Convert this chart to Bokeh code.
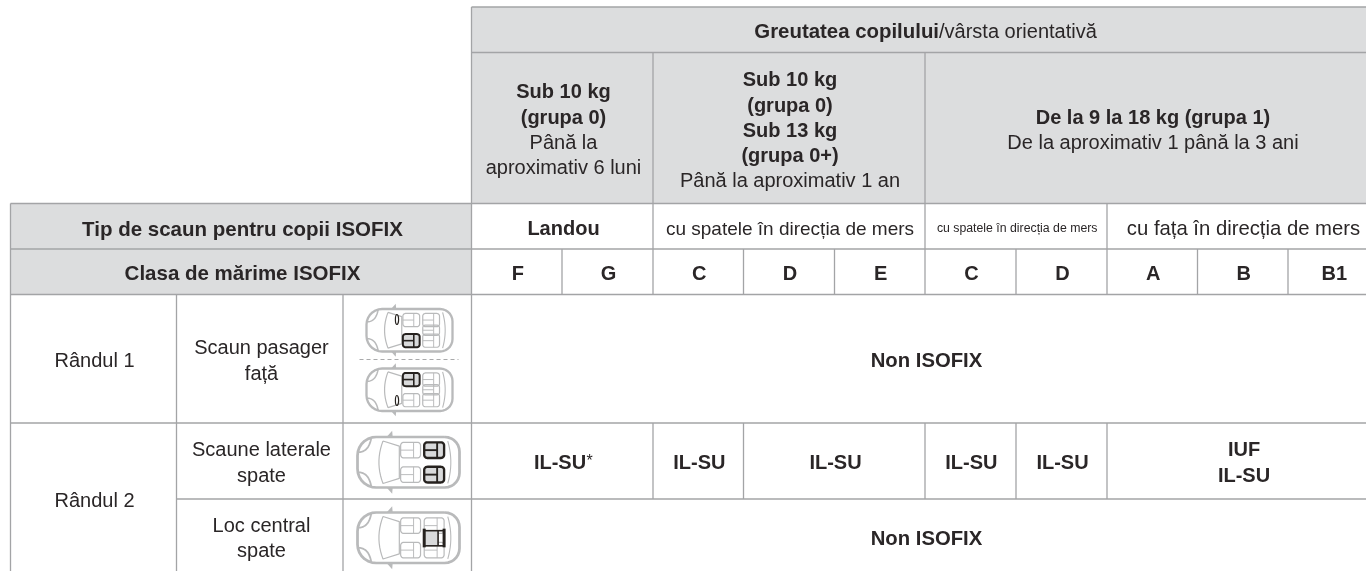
from bokeh.plotting import figure
from bokeh.models import Range1d
from bokeh.core.properties import value
from bokeh.embed import file_html
from bokeh.resources import INLINE
import numpy as np

# ---------- table content ----------
header_title_bold = "Greutatea copilului"
header_title_rest = "/vârsta orientativă"
group_1 = ["Sub 10 kg", "(grupa 0)", "Până la", "aproximativ 6 luni"]
group_2 = ["Sub 10 kg", "(grupa 0)", "Sub 13 kg", "(grupa 0+)", "Până la aproximativ 1 an"]
group_3 = ["De la 9 la 18 kg (grupa 1)", "De la aproximativ 1 până la 3 ani"]
seat_type_label = "Tip de scaun pentru copii ISOFIX"
size_class_label = "Clasa de mărime ISOFIX"
seat_types = ["Landou", "cu spatele în direcția de mers", "cu spatele în direcția de mers", "cu fața în direcția de mers"]
size_classes = ["F", "G", "C", "D", "E", "C", "D", "A", "B", "B1"]
rows = ["Rândul 1", "Rândul 2"]
positions = [["Scaun pasager", "față"], ["Scaune laterale", "spate"], ["Loc central", "spate"]]
non_isofix = "Non ISOFIX"
row2_values = ["IL-SU", "IL-SU", "IL-SU", "IL-SU", "IL-SU", "IUF", "IL-SU"]
footnote_mark = "*"

# ---------- layout (page pixels) ----------
W, H = 1366, 571
XL = [10, 176, 342.5, 471]
XC = [471, 561.5, 652.5, 743, 834, 924.5, 1015.5, 1106.5, 1197, 1287.5, 1378]
Y = [6.5, 52, 203, 248.5, 294, 422.5, 498.5, 571]
LINE = "#a3a4a6"
FILL = "#dcddde"
INK = "#2a2627"
CAR = "#b9babb"
DARK = "#26221f"
FONT = "Liberation Sans"
FS = 20

p = figure(width=W, height=H, x_range=Range1d(0, W), y_range=Range1d(H, 0),
           toolbar_location=None, output_backend="svg", min_border=0,
           outline_line_color=None, background_fill_color="white",
           styles={"position": "fixed", "left": "0px", "top": "0px"})
p.axis.visible = False
p.grid.visible = False

# shaded cells
p.quad(left=[XC[0], XL[0]], right=[W, XL[3]], top=[Y[0], Y[2]], bottom=[Y[2], Y[4]],
       fill_color=FILL, line_color=None)

# grid lines
segs = []
def h(x0, x1, y): segs.append((x0, y, x1, y))
def v(x, y0, y1): segs.append((x, y0, x, y1))
h(XC[0], W, Y[0]); h(XC[0], W, Y[1])
h(XL[0], W, Y[2]); h(XL[0], W, Y[3]); h(XL[0], W, Y[4]); h(XL[0], W, Y[5])
h(XL[1], W, Y[6])
v(XL[0], Y[2], Y[7]); v(XL[3], Y[0], Y[7])
v(XL[1], Y[4], Y[7]); v(XL[2], Y[4], Y[7])
v(XC[2], Y[1], Y[3]); v(XC[5], Y[1], Y[3]); v(XC[7], Y[2], Y[3])
for i in range(1, 10):
    v(XC[i], Y[3], Y[4])
for i in (2, 3, 5, 6, 7):
    v(XC[i], Y[5], Y[6])
s = np.array(segs)
p.segment(s[:, 0], s[:, 1], s[:, 2], s[:, 3], line_color=LINE, line_width=1.3)

# texts
def t(label, x, y, bold=False, size=FS, align="center", font=FONT, color=INK):
    p.text([x], [y - 0.7], text=[label], text_font=value(font), text_font_size=f"{size}px",
           text_font_style="bold" if bold else "normal", text_align=align,
           text_baseline="middle", text_color=color)

t(header_title_bold, 938.5, 31.5, True, align="right", size=20.4)
t(header_title_rest, 938.5, 31.5, False, align="left")

g1_y = [91, 117, 142, 167]
for lab, y, b in zip(group_1, g1_y, (True, True, False, False)):
    t(lab, 563, y, b)
g2_y = [79.5, 105, 130, 155, 180.5]
for lab, y, b in zip(group_2, g2_y, (True, True, True, True, False)):
    t(lab, 789.5, y, b)
for lab, y, b in zip(group_3, (117.5, 142.5), (True, False)):
    t(lab, 1152.5, y, b)

t(seat_type_label, 242, 228.5, True, size=20.5)
t(size_class_label, 242, 273, True, size=20.5)
t(seat_types[0], 563, 228.5, True)
t(seat_types[1], 789.5, 228.5, False, size=19)
t(seat_types[2], 1016.7, 228.5, False, size=12.3)
t(seat_types[3], 1243, 228.5, False, size=20.3)

for lab, i in zip(size_classes, range(10)):
    t(lab, (XC[i] + XC[i + 1]) / 2 + 1, 273.5, True)

t(rows[0], 94, 360)
t(rows[1], 94, 500)
for (a, b), ya, yb in zip(positions, (347, 449, 525), (373.5, 475, 550.5)):
    t(a, 261, ya); t(b, 261, yb)

t(non_isofix, 926, 360.5, True, size=20.3)
t(non_isofix, 926, 538, True, size=20.3)
cx_vals = [559.5, 698.8, 835, 970.8, 1062]
for lab, x in zip(row2_values[:5], cx_vals):
    t(lab, x, 462, True)
t(footnote_mark, 586, 461, False, size=16, align="left")
t(row2_values[5], 1243.5, 449, True)
t(row2_values[6], 1243.5, 475, True)


# ---------- car pictograms ----------
def rrect(x0, y0, x1, y1, r, r_front=None):
    rf = r if r_front is None else r_front
    xs, ys = [], []
    for cx, cy, a0, rr in ((x1 - r, y0 + r, -90, r), (x1 - r, y1 - r, 0, r),
                           (x0 + rf, y1 - rf, 90, rf), (x0 + rf, y0 + rf, 180, rf)):
        for a in np.radians(np.linspace(a0, a0 + 90, 8)):
            xs.append(cx + rr * np.cos(a)); ys.append(cy + rr * np.sin(a))
    return xs + xs[:1], ys + ys[:1]


def bez(p0, p1, p2, n=12):
    u = np.linspace(0, 1, n)
    return (list((1-u)**2*p0[0] + 2*u*(1-u)*p1[0] + u*u*p2[0]),
            list((1-u)**2*p0[1] + 2*u*(1-u)*p1[1] + u*u*p2[1]))


def seat(x0, y0, x1, y1, k, hi=False):
    col = DARK if hi else CAR
    lw = 2.4 * k if hi else 1.2
    xs, ys = rrect(x0, y0, x1, y1, 3.2 * k)
    xm = x0 + (x1 - x0) * 0.65
    ym = (y0 + y1) / 2
    if hi:
        p.patch(xs, ys, fill_color="#d9dadb", line_color=col, line_width=lw)
    else:
        p.line(xs, ys, line_color=col, line_width=lw)
    p.segment([x0, xm], [ym, y0], [xm, xm], [ym, y1], line_color=col, line_width=lw * 0.8)


def car(x0, y0, w, h_, small=False, hi=()):
    """Top-view car; x0,y0 = outline top-left corner, w,h_ = outline size."""
    k = w / 104.0
    X = lambda f: x0 + f * w
    Yy = lambda f: y0 + f * h_
    # mirrors
    for ya, yb in ((0, -0.125), (1, 1.125)):
        p.patch([X(.285), X(.34), X(.345)], [Yy(ya), Yy(yb), Yy(ya)], fill_color=CAR, line_color=None)
    # body
    xs, ys = rrect(x0, y0, x0 + w, y0 + h_, 15 * k, 19 * k)
    p.line(xs, ys, line_color=CAR, line_width=2.8 * k)
    # windscreen
    a, b = bez((X(.25), Yy(.08)), (X(.17), Yy(.5)), (X(.25), Yy(.92)))
    p.line(a + [X(.41), X(.41), a[0]], b + [Yy(.82), Yy(.18), b[0]], line_color=CAR, line_width=1.2)
    # front wings
    for yy0, yy1 in ((.30, .02), (.70, .98)):
        a, b = bez((X(.01), Yy(yy0)), (X(.11), Yy(yy0)), (X(.135), Yy(yy1)))
        p.line(a, b, line_color=CAR, line_width=1.8 * k)
    # rear window
    a, b = bez((X(.885), Yy(.08)), (X(.945), Yy(.5)), (X(.885), Yy(.92)))
    p.line(a, b, line_color=CAR, line_width=1.1)
    # seats
    sx = [.423, .654]
    sw = .195
    sy = [(.105, .415), (.59, .90)]
    if small:
        seat(X(.654), Yy(.38), X(.849), Yy(.62), k)
    for col, c in enumerate(sx):
        for row, (ya, yb) in enumerate(sy):
            seat(X(c), Yy(ya), X(c + sw), Yy(yb), k, hi=(col, row) in hi)
    if "center" in hi:
        lx, rx, mx = X(.654), X(.849), X(.79)
        p.patch([lx, mx, mx, lx], [Yy(.36), Yy(.36), Yy(.66), Yy(.66)],
                fill_color="#d9dadb", line_color=None)
        p.segment([lx, rx], [Yy(.32), Yy(.32)], [lx, rx], [Yy(.69), Yy(.69)],
                  line_color=DARK, line_width=3.0)
        p.segment([lx, lx, mx], [Yy(.36), Yy(.66), Yy(.36)], [rx, rx, mx], [Yy(.36), Yy(.66), Yy(.66)],
                  line_color=DARK, line_width=1.6)


def wheel(x, y):
    p.ellipse([x], [y], width=3.2, height=10, fill_color=None, line_color=DARK, line_width=1.2)


# passenger-front, two small cars with the dashed divider between them
car(366, 308.5, 86, 42.5, small=True, hi={(0, 1)})
wheel(396.5, 319)
p.line([359, 458], [359, 359], line_color="#a9aaab", line_width=1.1, line_dash="4 3")
car(366, 368, 86, 42.5, small=True, hi={(0, 0)})
wheel(396.5, 400)
# rear side seats / rear centre seat
car(357, 436.5, 102, 50.5, hi={(1, 0), (1, 1)})
car(357, 512, 102, 50.5, hi={"center"})

open("out.html", "w").write(file_html(p, INLINE))
